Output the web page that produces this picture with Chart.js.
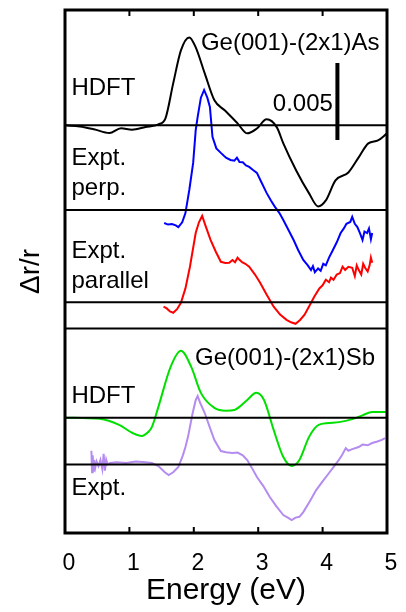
<!DOCTYPE html>
<html>
<head>
<meta charset="utf-8">
<script src="https://cdn.jsdelivr.net/npm/chart.js@4/dist/chart.umd.min.js"></script>
<style>
  html, body { margin: 0; padding: 0; background: #fff; }
  #wrap { width: 406px; height: 612px; }
</style>
</head>
<body>
<div id="wrap"><canvas id="grafico" width="406" height="612"></canvas></div>
<script>
// energia en eV, valores de dr/r en unidades de 1e-3, relativos a su linea base
const asHdftE = [0, 0.23, 0.45, 0.69, 0.87, 1.04, 1.25, 1.45, 1.56, 1.68, 1.80, 1.93, 2.03, 2.17, 2.32, 2.48, 2.68, 2.83, 2.98, 3.13, 3.29, 3.39, 3.59, 3.79, 3.93, 4.05, 4.20, 4.40, 4.56, 4.71, 4.86, 5.0];
const asHdftV = [0, -0.07, -0.25, -0.5, -0.18, -0.28, -0.11, 0.07, 0.46, 2.73, 4.88, 5.72, 5.07, 3.38, 1.63, 0.98, 0.13, -0.52, -0.2, 0.39, -0.13, -1.17, -2.93, -4.42, -5.27, -4.88, -3.58, -3.06, -2.08, -1.17, -0.98, -0.52];

const perpE = [1.54, 1.60, 1.66, 1.72, 1.76, 1.82, 1.87, 1.93, 1.99, 2.03, 2.06, 2.11, 2.16, 2.21, 2.25, 2.29, 2.35, 2.42, 2.50, 2.57, 2.63, 2.67, 2.71, 2.76, 2.81, 2.86, 2.92, 2.98, 3.05, 3.13, 3.20, 3.26, 3.33, 3.39, 3.47, 3.55, 3.62, 3.70, 3.77, 3.82, 3.85, 3.88, 3.93, 3.97, 4.01, 4.05, 4.10, 4.16, 4.22, 4.28, 4.33, 4.37, 4.43, 4.46, 4.50, 4.54, 4.58, 4.62, 4.65, 4.69, 4.72, 4.75, 4.77];
const perpV = [-0.85, -0.95, -0.92, -1.0, -1.11, -0.8, -0.2, 1.3, 3.06, 5.2, 6.05, 7.3, 7.8, 7.3, 6.7, 4.75, 4.0, 3.71, 3.4, 3.25, 3.2, 3.4, 3.12, 3.1, 2.9, 2.8, 2.6, 2.41, 1.8, 1.11, 0.6, 0.2, -0.2, -0.65, -1.3, -1.95, -2.6, -3.25, -3.6, -3.9, -3.65, -4.05, -3.8, -3.95, -3.5, -3.6, -3.1, -2.6, -2.1, -1.5, -1.2, -0.9, -0.78, -0.45, -0.9, -1.11, -1.5, -1.95, -1.4, -1.5, -1.2, -1.9, -1.5];

const parE = [1.53, 1.58, 1.63, 1.68, 1.74, 1.80, 1.87, 1.94, 2.03, 2.08, 2.13, 2.18, 2.26, 2.34, 2.42, 2.49, 2.55, 2.60, 2.64, 2.68, 2.71, 2.75, 2.80, 2.86, 2.95, 3.03, 3.13, 3.24, 3.34, 3.44, 3.51, 3.58, 3.65, 3.72, 3.80, 3.87, 3.95, 4.00, 4.05, 4.10, 4.13, 4.17, 4.22, 4.27, 4.31, 4.35, 4.40, 4.46, 4.50, 4.53, 4.56, 4.60, 4.63, 4.66, 4.70, 4.73, 4.75, 4.77];
const parV = [-0.29, -0.4, -0.6, -0.68, -0.45, -0.03, 0.9, 2.31, 4.52, 5.2, 5.62, 5.0, 4.06, 3.3, 2.63, 2.55, 2.57, 2.75, 2.6, 2.9, 2.76, 2.6, 2.5, 2.31, 1.8, 1.27, 0.5, -0.29, -0.8, -1.14, -1.3, -1.4, -1.15, -0.81, -0.2, 0.36, 0.9, 1.1, 1.46, 1.3, 1.6, 1.46, 1.8, 1.9, 2.31, 2.1, 2.3, 2.24, 1.7, 2.4, 2.11, 1.8, 2.5, 2.24, 2.0, 2.4, 2.9, 2.57];

const sbHdftE = [0, 0.54, 0.84, 1.05, 1.19, 1.30, 1.35, 1.45, 1.64, 1.80, 1.96, 2.11, 2.32, 2.50, 2.63, 2.83, 2.97, 3.09, 3.24, 3.39, 3.52, 3.64, 3.79, 3.94, 4.16, 4.36, 4.50, 4.62, 4.77, 5.0];
const sbHdftV = [0, -0.08, -0.47, -1.0, -1.19, -0.9, -0.6, 0.7, 3.3, 4.34, 3.3, 1.61, 0.63, 0.45, 0.5, 1.15, 1.61, 1.15, -0.8, -2.56, -3.14, -2.75, -1.25, -0.47, -0.34, -0.21, -0.05, 0.15, 0.37, 0.37];

const sbExpE = [0.41, 0.42, 0.43, 0.44, 0.45, 0.47, 0.49, 0.52, 0.55, 0.58, 0.60, 0.62, 0.64, 0.66, 0.70, 0.80, 0.95, 1.10, 1.25, 1.35, 1.45, 1.55, 1.61, 1.68, 1.76, 1.83, 1.87, 1.91, 1.98, 2.03, 2.06, 2.10, 2.17, 2.25, 2.32, 2.42, 2.50, 2.60, 2.68, 2.76, 2.83, 2.90, 2.98, 3.08, 3.18, 3.28, 3.39, 3.46, 3.52, 3.58, 3.64, 3.70, 3.80, 3.90, 4.00, 4.10, 4.18, 4.25, 4.30, 4.36, 4.40, 4.46, 4.56, 4.62, 4.70, 4.77, 4.85, 4.92, 4.97];
const sbExpV = [0.9, -0.5, 0.6, -0.4, 0.3, -0.2, 0.2, -0.1, 0.3, -0.3, 0.7, -0.4, 0.3, 0, 0.1, 0.15, 0.1, 0.2, 0.15, 0.1, -0.1, -0.5, -0.68, -0.5, -0.16, 0.6, 1.14, 1.8, 3.3, 4.2, 4.45, 4.0, 3.35, 2.4, 1.59, 0.88, 0.8, 0.75, 0.78, 0.6, 0.29, -0.2, -0.81, -1.4, -2.11, -2.7, -3.28, -3.45, -3.61, -3.45, -3.4, -3.09, -2.4, -1.66, -1.1, -0.55, -0.1, 0.29, 0.6, 1.07, 0.9, 1.0, 1.14, 1.3, 1.25, 1.4, 1.5, 1.6, 1.72];

// lineas base (desplazamientos verticales)
const baseAsHdft = 26.5;
const basePerp = 21.0;
const basePar = 15.0;
const separador = 13.3;
const baseSbHdft = 7.5;
const baseSbExp = 4.45;

// barra de escala: 0.005 = 5 unidades
const barraE = 4.23;
const barraArriba = 30.55;
const barraLargo = 5;

const xTicks = [0, 1, 2, 3, 4, 5];

function serie(es, vs, base) {
  return es.map((e, i) => ({ x: e, y: vs[i] + base }));
}

function linea(y) {
  return [{ x: 0, y: y }, { x: 5, y: y }];
}

const etiquetas = [
  { t: "HDFT", x: 0.1, y: 28.48, align: "left" },
  { t: "Ge(001)-(2x1)As", x: 2.11, y: 31.4, align: "left" },
  { t: "0.005", x: 4.16, y: 27.44, align: "right" },
  { t: "Expt.", x: 0.1, y: 23.93, align: "left" },
  { t: "perp.", x: 0.1, y: 21.98, align: "left" },
  { t: "Expt.", x: 0.1, y: 17.88, align: "left" },
  { t: "parallel", x: 0.1, y: 15.93, align: "left" },
  { t: "Ge(001)-(2x1)Sb", x: 2.02, y: 10.92, align: "left" },
  { t: "HDFT", x: 0.1, y: 8.45, align: "left" },
  { t: "Expt.", x: 0.1, y: 2.47, align: "left" },
];

const fuente = "'Liberation Sans', Arial, Helvetica, sans-serif";

// marco, ticks interiores y textos
const marcoPlugin = {
  id: "marco",
  afterDatasetsDraw(chart) {
    const { ctx, chartArea: a, scales } = chart;
    ctx.save();
    ctx.strokeStyle = "#000";
    ctx.lineWidth = 2;
    xTicks.forEach(function (v) {
      if (v == 0 || v == 5) return;
      const px = scales.x.getPixelForValue(v);
      ctx.beginPath();
      ctx.moveTo(px, a.bottom);
      ctx.lineTo(px, a.bottom - 6);
      ctx.moveTo(px, a.top);
      ctx.lineTo(px, a.top + 6);
      ctx.stroke();
    });
    ctx.lineWidth = 3;
    ctx.strokeRect(a.left, a.top, a.right - a.left, a.bottom - a.top);

    ctx.fillStyle = "#000";
    ctx.font = "24px " + fuente;
    ctx.textBaseline = "alphabetic";
    etiquetas.forEach(function (et) {
      ctx.textAlign = et.align;
      ctx.fillText(et.t, scales.x.getPixelForValue(et.x), scales.y.getPixelForValue(et.y));
    });
    ctx.restore();
  },
};

const ctx = document.getElementById("grafico").getContext("2d");

const estiloLinea = { borderColor: "#000", borderWidth: 2, pointRadius: 0, fill: false };

const miGrafico = new Chart(ctx, {
  type: "line",
  data: {
    datasets: [
      Object.assign({ data: linea(baseAsHdft) }, estiloLinea),
      Object.assign({ data: linea(basePerp) }, estiloLinea),
      Object.assign({ data: linea(basePar) }, estiloLinea),
      Object.assign({ data: linea(separador) }, estiloLinea),
      Object.assign({ data: linea(baseSbHdft) }, estiloLinea),
      Object.assign({ data: linea(baseSbExp) }, estiloLinea),
      {
        data: [{ x: barraE, y: barraArriba }, { x: barraE, y: barraArriba - barraLargo }],
        borderColor: "#000",
        borderWidth: 4,
        pointRadius: 0,
        borderCapStyle: "butt",
      },
      {
        data: serie(asHdftE, asHdftV, baseAsHdft),
        borderColor: "#000",
        borderWidth: 2,
        pointRadius: 0,
        cubicInterpolationMode: "monotone",
      },
      {
        data: serie(perpE, perpV, basePerp),
        borderColor: "#0000ff",
        borderWidth: 2,
        pointRadius: 0,
        tension: 0,
      },
      {
        data: serie(parE, parV, basePar),
        borderColor: "#ff0000",
        borderWidth: 2,
        pointRadius: 0,
        tension: 0,
      },
      {
        data: serie(sbHdftE, sbHdftV, baseSbHdft),
        borderColor: "#00e000",
        borderWidth: 2,
        pointRadius: 0,
        cubicInterpolationMode: "monotone",
      },
      {
        data: serie(sbExpE, sbExpV, baseSbExp),
        borderColor: "#b48cf0",
        borderWidth: 2,
        pointRadius: 0,
        tension: 0,
      },
    ],
  },
  options: {
    responsive: false,
    animation: false,
    events: [],
    layout: { padding: { top: 10, right: 19, left: 0, bottom: 0 } },
    plugins: {
      legend: { display: false },
      tooltip: { enabled: false },
    },
    scales: {
      x: {
        type: "linear",
        min: 0,
        max: 5,
        afterBuildTicks(s) {
          s.ticks = xTicks.map((v) => ({ value: v }));
        },
        afterFit(s) {
          s.height = 79;
          s.paddingLeft = 0;
          s.paddingRight = 0;
        },
        grid: { display: false, drawTicks: false },
        border: { display: false },
        ticks: {
          color: "#000",
          font: { family: fuente, size: 23 },
          padding: 17,
          labelOffset: 4,
          maxRotation: 0,
        },
        title: {
          display: true,
          text: "Energy (eV)",
          color: "#000",
          font: { family: fuente, size: 30, lineHeight: 1.0 },
          padding: { top: 0, bottom: 6 },
        },
      },
      y: {
        type: "linear",
        min: 0,
        max: 34,
        afterFit(s) {
          s.width = 65;
        },
        grid: { display: false, drawTicks: false },
        border: { display: false },
        ticks: { display: false },
        title: {
          display: true,
          text: "Δr/r",
          color: "#000",
          font: { family: fuente, size: 28, lineHeight: 1.2 },
          padding: { top: 14, bottom: 0 },
        },
      },
    },
  },
  plugins: [marcoPlugin],
});
</script>
</body>
</html>
